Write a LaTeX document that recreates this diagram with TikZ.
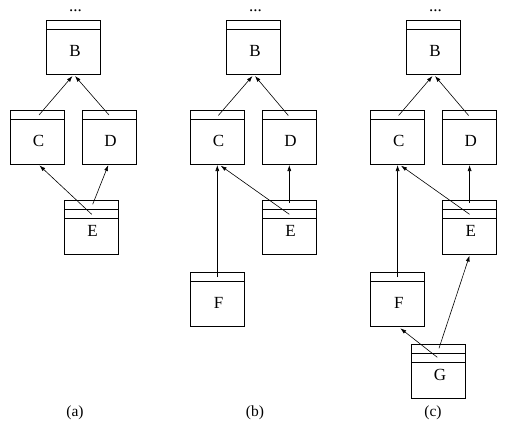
\documentclass[tikz,border=0pt]{standalone}
\usepackage{fontspec}
\setmainfont{Liberation Serif}
\usetikzlibrary{arrows.meta,calc}
\tikzset{
  umlbox/.style={draw, line width=0.8pt, minimum width=54pt, minimum height=54pt, inner sep=0pt, outer sep=0pt},
  letter/.style={font=\fontsize{17}{17}\selectfont, inner sep=0pt},
  capt/.style={font=\fontsize{15.5}{15.5}\selectfont, inner sep=0pt},
  dotsty/.style={font=\fontsize{17}{17}\selectfont, inner sep=0pt, anchor=base},
  dep/.style={line width=0.6pt, -{Latex[length=6pt,width=4pt]}},
  hdr/.style={line width=0.8pt}
}
\newcommand\mkbox[5]{%
  \node[umlbox] (#1) at (#2,-#3-27) {};
  \draw[hdr] ([yshift=-9pt]#1.north west) -- ([yshift=-9pt]#1.north east);
  \ifnum#5>1 \draw[hdr] ([yshift=-18pt]#1.north west) -- ([yshift=-18pt]#1.north east);\fi
  \node[letter] (#1-txt) at ([xshift=1.5pt,yshift=-31pt]#1.north) {#4};
}
\begin{document}
\begin{tikzpicture}[x=1pt,y=1pt]
\useasboundingbox (0,0) rectangle (507,-434);
% ---------- panel (a)
\mkbox{Ba}{73.5}{20}{B}{1}
\mkbox{Ca}{37}{110}{C}{1}
\mkbox{Da}{109}{110}{D}{1}
\mkbox{Ea}{91}{200}{E}{2}
\node[dotsty] (dotsa) at ($(Ba.north)+(2,9)$) {...};
\draw[dep] ($(Ca.north)+(2,-5)$) -- ($(Ba.south)+(-1,-2)$);
\draw[dep] ($(Da.north)+(0,-5)$) -- ($(Ba.south)+(1.5,-2)$);
\draw[dep] ($(Ea.north)+(0.7,-14.3)$) -- ($(Ca.south)+(2.5,-1.5)$);
\draw[dep] ($(Ea.north)+(1.7,-4.3)$) -- ($(Da.south)+(-0.7,-1)$);
\node[capt] (capa) at (75,-413) {(a)};
% ---------- panel (b)
\mkbox{Bb}{253.5}{20}{B}{1}
\mkbox{Cb}{217}{110}{C}{1}
\mkbox{Db}{289}{110}{D}{1}
\mkbox{Eb}{289}{200}{E}{2}
\mkbox{Fb}{217}{272}{F}{1}
\node[dotsty] (dotsb) at ($(Bb.north)+(2,9)$) {...};
\draw[dep] ($(Cb.north)+(1.3,-5.5)$) -- ($(Bb.south)+(-1,-2)$);
\draw[dep] ($(Db.north)+(-0.7,-5.5)$) -- ($(Bb.south)+(1.5,-2)$);
\draw[dep] ($(Fb.north)+(0.3,-5)$) -- ($(Cb.south)+(0.3,-1)$);
\draw[dep] ($(Eb.north)+(0.3,-14.3)$) -- ($(Cb.south)+(3.7,-1.7)$);
\draw[dep] ($(Eb.north)+(0.3,-3)$) -- ($(Db.south)+(0.3,-1)$);
\node[capt] (capb) at (255,-413) {(b)};
% ---------- panel (c)
\mkbox{Bc}{433.5}{20}{B}{1}
\mkbox{Cc}{397.3}{110}{C}{1}
\mkbox{Dc}{469.3}{110}{D}{1}
\mkbox{Ec}{469.3}{200}{E}{2}
\mkbox{Fc}{397.3}{272}{F}{1}
\mkbox{Gc}{438.5}{344}{G}{2}
\node[dotsty] (dotsc) at ($(Bc.north)+(2,9)$) {...};
\draw[dep] ($(Cc.north)+(1.3,-5.5)$) -- ($(Bc.south)+(-1,-2)$);
\draw[dep] ($(Dc.north)+(-0.7,-5.5)$) -- ($(Bc.south)+(1.5,-2)$);
\draw[dep] ($(Fc.north)+(0.3,-5)$) -- ($(Cc.south)+(0.3,-1)$);
\draw[dep] ($(Ec.north)+(0.3,-14.3)$) -- ($(Cc.south)+(3.7,-1.7)$);
\draw[dep] ($(Ec.north)+(0.3,-3)$) -- ($(Dc.south)+(0.3,-1)$);
\draw[dep] ($(Gc.north)+(-1.2,-13.3)$) -- ($(Fc.south)+(3,-2.3)$);
\draw[dep] ($(Gc.north)+(0.5,-4.3)$) -- ($(Ec.south)+(0.3,-1.5)$);
\node[capt] (capc) at (433,-413) {(c)};
\end{tikzpicture}
\end{document}
